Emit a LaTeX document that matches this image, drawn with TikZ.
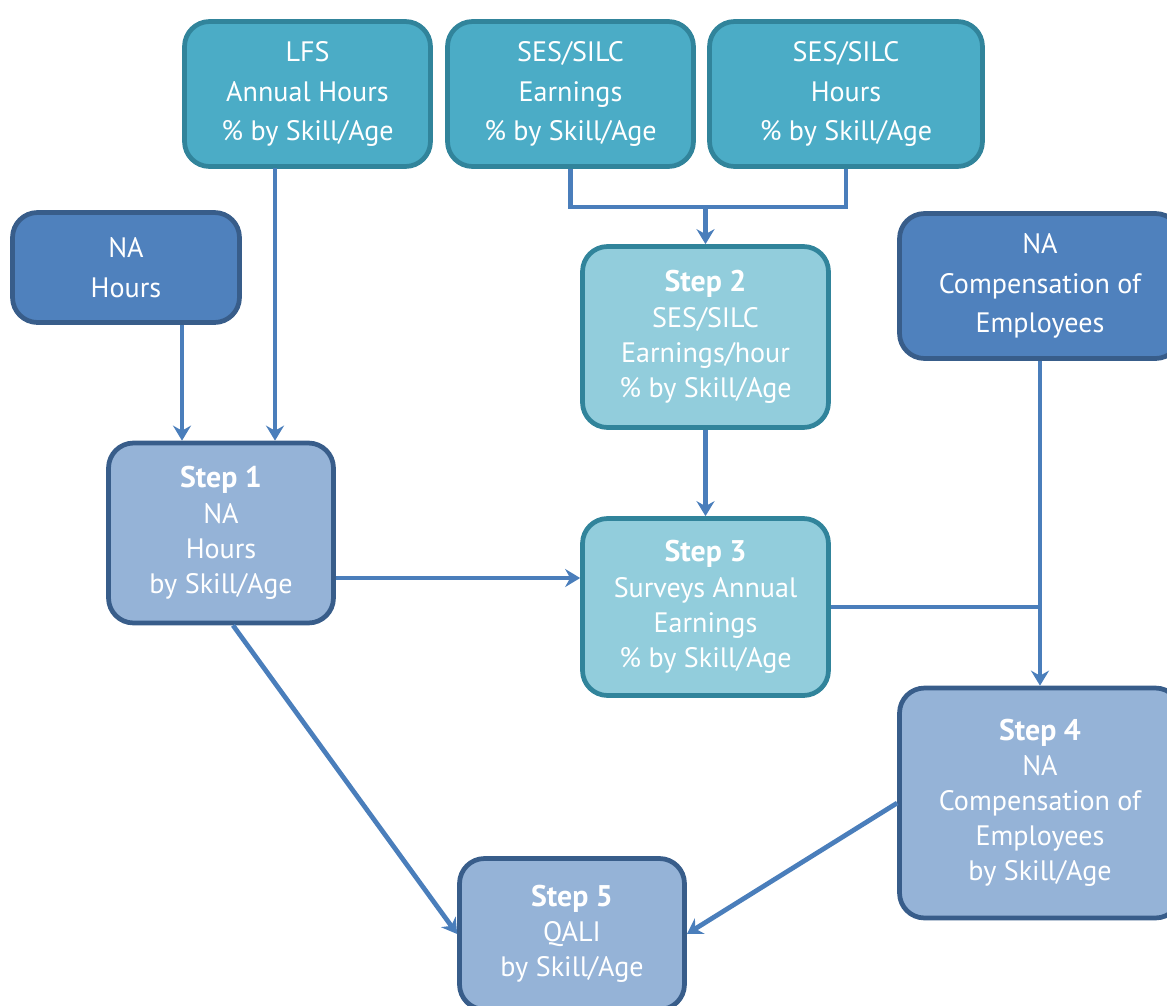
\documentclass[tikz,border=0pt]{standalone}
\usepackage{fontspec}
\setmainfont{PT Sans}
\usetikzlibrary{arrows.meta}
\definecolor{srcfill}{HTML}{4BACC6}
\definecolor{srcline}{HTML}{31849B}
\definecolor{midfill}{HTML}{92CDDC}
\definecolor{nafill}{HTML}{4F81BD}
\definecolor{naline}{HTML}{385D8A}
\definecolor{stepfill}{HTML}{95B3D7}
\definecolor{arrowblue}{HTML}{4A7EBB}
\newcommand{\steptitle}[1]{{\fontsize{17}{20}\selectfont\bfseries #1}}
\begin{document}
\begin{tikzpicture}[x=0.02cm,y=-0.02cm,
  box/.style={draw,line width=2.7pt,rounded corners=0.5cm,text=white,align=center,
    font=\fontsize{16}{20}\selectfont},
  srcbox/.style={box,fill=srcfill,draw=srcline,font=\fontsize{16}{22.5}\selectfont},
  midbox/.style={box,fill=midfill,draw=srcline},
  nabox/.style={box,fill=nafill,draw=naline,font=\fontsize{16}{22.5}\selectfont},
  stepbox/.style={box,fill=stepfill,draw=naline},
  conn/.style={draw=arrowblue,line width=2.7pt},
  arr/.style={conn,-{Stealth[length=0.3cm,width=0.36cm,inset=0.1cm]}}]
\clip (0,0) rectangle (1167,1005);

% sources
\node[srcbox,minimum width=4.92cm,minimum height=2.9cm] (lfs) at (307.5,94) {LFS\\Annual Hours\\\% by Skill/Age};
\node[srcbox,minimum width=4.92cm,minimum height=2.9cm] (sese) at (570.5,94) {SES/SILC\\Earnings\\\% by Skill/Age};
\node[srcbox,minimum width=5.46cm,minimum height=2.9cm] (sesh) at (846,94) {SES/SILC\\Hours\\\% by Skill/Age};
\node[nabox,minimum width=4.54cm,minimum height=2.2cm] (nah) at (126,267.5) {NA\\Hours};
\node[nabox,minimum width=5.62cm,minimum height=2.9cm] (nac) at (1040,286) {NA\\Compensation of\\Employees};

% steps
\node[stepbox,minimum width=4.5cm,minimum height=3.6cm] (s1) at (221,533) {\steptitle{Step 1}\\NA\\Hours\\by Skill/Age};
\node[midbox,minimum width=4.92cm,minimum height=3.62cm] (s2) at (705.5,337) {\steptitle{Step 2}\\SES/SILC\\Earnings/hour\\\% by Skill/Age};
\node[midbox,minimum width=4.92cm,minimum height=3.54cm] (s3) at (705.5,607) {\steptitle{Step 3}\\Surveys Annual\\Earnings\\\% by Skill/Age};
\node[stepbox,minimum width=5.62cm,minimum height=4.6cm] (s4) at (1040,803) {\steptitle{Step 4}\\NA\\Compensation of\\Employees\\by Skill/Age};
\node[stepbox,minimum width=4.5cm,minimum height=3.02cm] (s5) at (572,934) {\steptitle{Step 5}\\QALI\\by Skill/Age};

% connectors
\coordinate (ja) at (182,325);
\coordinate (jb) at (275,168);
\coordinate (jc) at (705.5,207);
\coordinate (jd) at (336,578);
\draw[arr] (ja) -- (ja |- s1.north);
\draw[arr] (jb) -- (jb |- s1.north);
\draw[conn] (sese.south) |- (jc) -| (sesh.south);
\draw[arr] (jc) -- (s2.north);
\draw[arr] (s2.south) -- (s3.north);
\draw[arr] (jd) -- (jd -| s3.west);
\draw[arr] (nac.south) -- (s4.north);
\draw[conn] (s3.east) -- (s3.east -| s4.north);
\draw[arr] ([xshift=0.24cm]s1.south) -- (s5.west);
\draw[arr] (s4.west) -- (s5.east);
\end{tikzpicture}
\end{document}
